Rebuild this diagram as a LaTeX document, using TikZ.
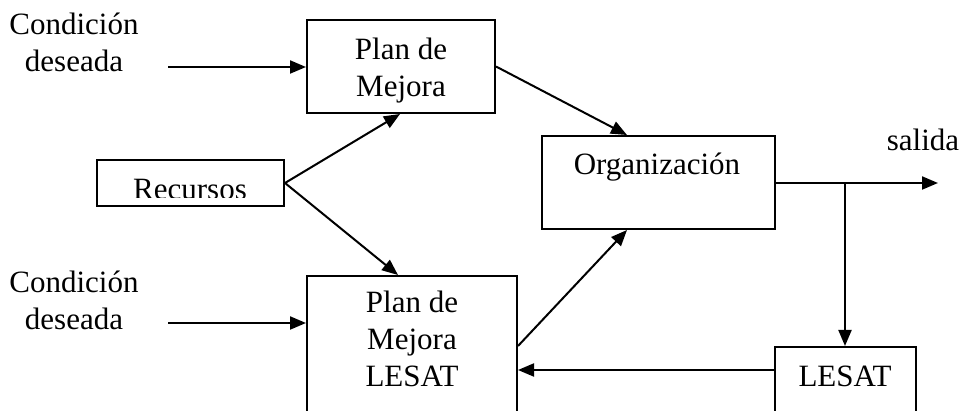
\documentclass[tikz,border=0pt]{standalone}
\usepackage{fontspec}
\setmainfont{Liberation Serif}
\usetikzlibrary{arrows.meta,calc}

\begin{document}
\begin{tikzpicture}[x=1pt,y=-1pt,
  font=\fontsize{31}{37}\selectfont,
  box/.style={draw,line width=2pt,inner sep=0pt,minimum width=#1},
  lbl/.style={inner sep=0pt,anchor=base,align=center},
  conn/.style={line width=2pt},
  arr/.style={conn,-{Triangle[length=16pt,width=13pt]}}]

\clip (0,0) rectangle (962,411);

% blocks
\node[box=188pt,minimum height=93pt] (pm)  at (401,66.5) {};
\node[box=187pt,minimum height=46pt] (rec) at (190.5,183) {};
\node[box=233pt,minimum height=93pt] (org) at (658.5,182.5) {};
\node[box=210pt,minimum height=164pt] (pml) at (412,358) {};
\node[box=141pt,minimum height=93pt] (les) at (845.5,393.5) {};

% texts (base anchor = baseline of the last line)
\node[lbl] (t1) at (74,72) {Condición\\deseada};
\node[lbl] (t2) at (74,330) {Condición\\deseada};
\node[lbl] (tpm) at (401,97) {Plan de\\Mejora};
\begin{scope}
  \clip (97,160) rectangle (284,198);
  \node[lbl] (trec) at (190,200) {Recursos};
\end{scope}
\node[lbl] (torg) at (657,175) {Organización};
\node[lbl] (tpml) at (412,387) {Plan de\\Mejora\\LESAT};
\node[lbl] (tles) at (845,387) {LESAT};
\node[lbl] (tout) at (923,151) {salida};

% connector end points
\coordinate (in1) at (168,67);
\coordinate (in2) at (168,323);
\coordinate (pmin) at (400,0);
\coordinate (pmlin) at (398,0);
\coordinate (orgin) at (627,0);
\coordinate (split) at (845,183);
\coordinate (out) at (938,183);
\coordinate (pmlout) at (0,346);
\coordinate (fb) at (0,370);

% connectors
\draw[arr] (in1) -- (in1 -| pm.west);
\draw[arr] (in2) -- (in2 -| pml.west);
\draw[arr] (rec.east) -- (pmin |- pm.south);
\draw[arr] (rec.east) -- (pmlin |- pml.north);
\draw[arr] (pm.east) -- (orgin |- org.north);
\draw[arr] (pml.east |- pmlout) -- (orgin |- org.south);
\draw[arr] (org.east |- split) -- (out);
\draw[arr] (split) -- (split |- les.north);
\draw[arr] (les.west |- fb) -- (pml.east |- fb);
\end{tikzpicture}
\end{document}
